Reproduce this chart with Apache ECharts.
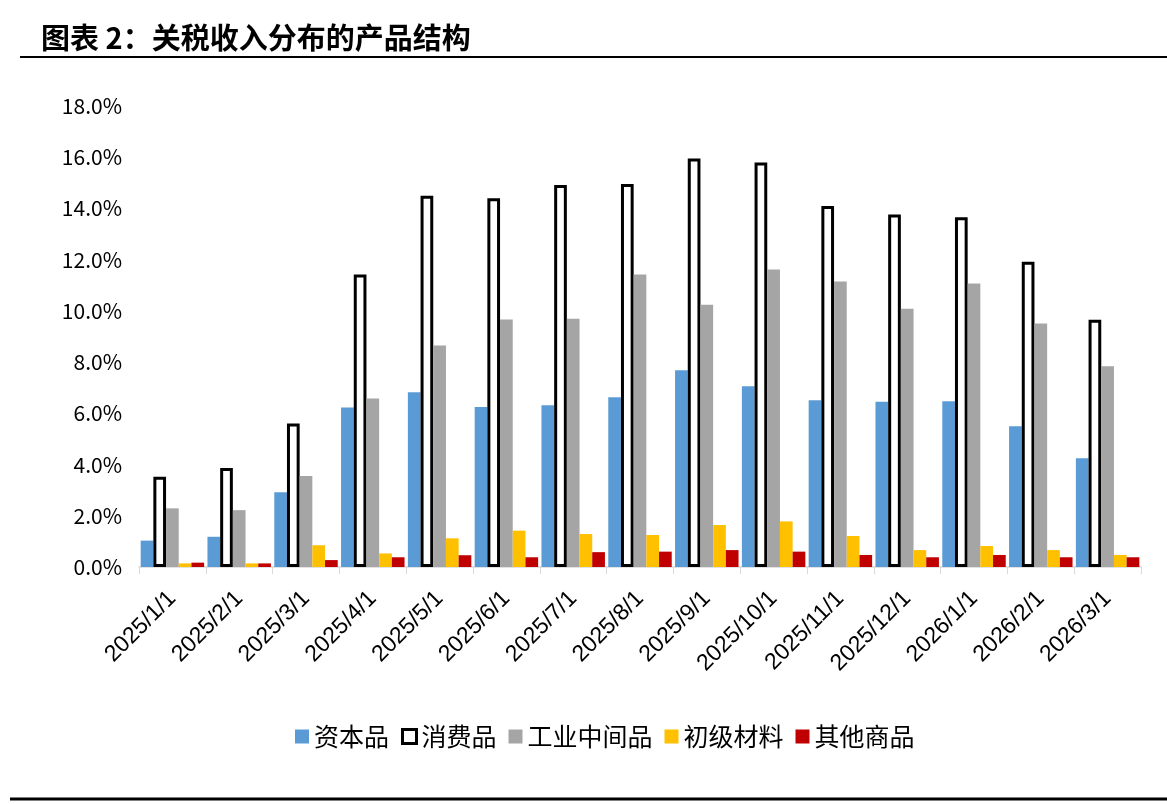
<!DOCTYPE html>
<html>
<head>
<meta charset="utf-8">
<script src="https://cdn.jsdelivr.net/npm/echarts@6/dist/echarts.min.js"></script>
<style>
  html, body { margin: 0; padding: 0; background: #fff; }
  #chart { width: 1167px; height: 804px; }
</style>
</head>
<body>
<div id="chart"></div>
<script>
// categories and series (share of tariff income, %)
var months = ["2025/1/1", "2025/2/1", "2025/3/1", "2025/4/1", "2025/5/1", "2025/6/1", "2025/7/1", "2025/8/1",
              "2025/9/1", "2025/10/1", "2025/11/1", "2025/12/1", "2026/1/1", "2026/2/1", "2026/3/1"];
var capitalGoods = [1.03, 1.18, 2.92, 6.23, 6.82, 6.25, 6.32, 6.63, 7.68, 7.06, 6.51, 6.45, 6.47, 5.50, 4.25];
var consumerGoods = [3.52, 3.87, 5.60, 11.42, 14.50, 14.40, 14.92, 14.95, 15.95, 15.79, 14.10, 13.76, 13.66, 11.92, 9.65];
var industrialSupplies = [2.29, 2.22, 3.55, 6.58, 8.65, 9.66, 9.69, 11.42, 10.24, 11.62, 11.15, 10.08, 11.07, 9.51, 7.84];
var rawMaterials = [0.14, 0.14, 0.85, 0.53, 1.12, 1.42, 1.29, 1.25, 1.64, 1.78, 1.21, 0.66, 0.82, 0.66, 0.47];
var otherGoods = [0.17, 0.14, 0.27, 0.38, 0.46, 0.38, 0.58, 0.60, 0.66, 0.60, 0.47, 0.38, 0.47, 0.38, 0.38];

var cjk = '"Noto Sans CJK SC", "Noto Sans", sans-serif';

function makeBar(name, data, style)
{
    return {
        name: name,
        type: 'bar',
        data: data,
        barGap: '0%',
        barCategoryGap: '5%',
        itemStyle: style
    };
}

var myChart = echarts.init(document.getElementById('chart'));

var option = {
    backgroundColor: '#fff',
    animation: false,
    title: {
        text: '图表 2：关税收入分布的产品结构',
        left: 36,
        top: 18,
        textStyle: { fontFamily: cjk, fontSize: 29, fontWeight: 'bold', color: '#000' }
    },
    graphic: [
        { type: 'line', shape: { x1: 20, y1: 57, x2: 1167, y2: 57 }, style: { stroke: '#000', lineWidth: 2 } },
        { type: 'line', shape: { x1: 10, y1: 799, x2: 1167, y2: 799 }, style: { stroke: '#000', lineWidth: 3 } }
    ],
    grid: { left: 139, right: 26, top: 106, bottom: 237 },
    legend: {
        bottom: 50,
        left: 290,
        icon: 'rect',
        itemWidth: 14,
        itemHeight: 14,
        itemGap: 12,
        textStyle: { fontFamily: cjk, fontSize: 25, color: '#000' },
        data: ['资本品', { name: '消费品', itemStyle: { borderWidth: 3, borderColor: '#000' } },
               '工业中间品', '初级材料', '其他商品']
    },
    xAxis: {
        type: 'category',
        data: months,
        axisLine: { lineStyle: { color: '#d9d9d9', width: 1.5 } },
        axisTick: { show: true, length: 7, lineStyle: { color: '#d9d9d9' } },
        axisLabel: {
            rotate: 45,
            margin: 28,
            fontFamily: 'Liberation Sans, Arial, sans-serif',
            fontSize: 23,
            color: '#000'
        }
    },
    yAxis: {
        type: 'value',
        min: 0,
        max: 18,
        interval: 2,
        axisLine: { show: false },
        axisTick: { show: false },
        splitLine: { show: false },
        axisLabel: {
            margin: 17,
            fontFamily: cjk,
            fontSize: 21,
            color: '#000',
            formatter: function (v) { return v.toFixed(1) + '%'; }
        }
    },
    series: [
        makeBar('资本品', capitalGoods, { color: '#5B9BD5' }),
        makeBar('消费品', consumerGoods, { color: '#fff', borderColor: '#000', borderWidth: 3 }),
        makeBar('工业中间品', industrialSupplies, { color: '#A5A5A5' }),
        makeBar('初级材料', rawMaterials, { color: '#FFC000' }),
        makeBar('其他商品', otherGoods, { color: '#C00000' })
    ]
};

myChart.setOption(option);
</script>
</body>
</html>
